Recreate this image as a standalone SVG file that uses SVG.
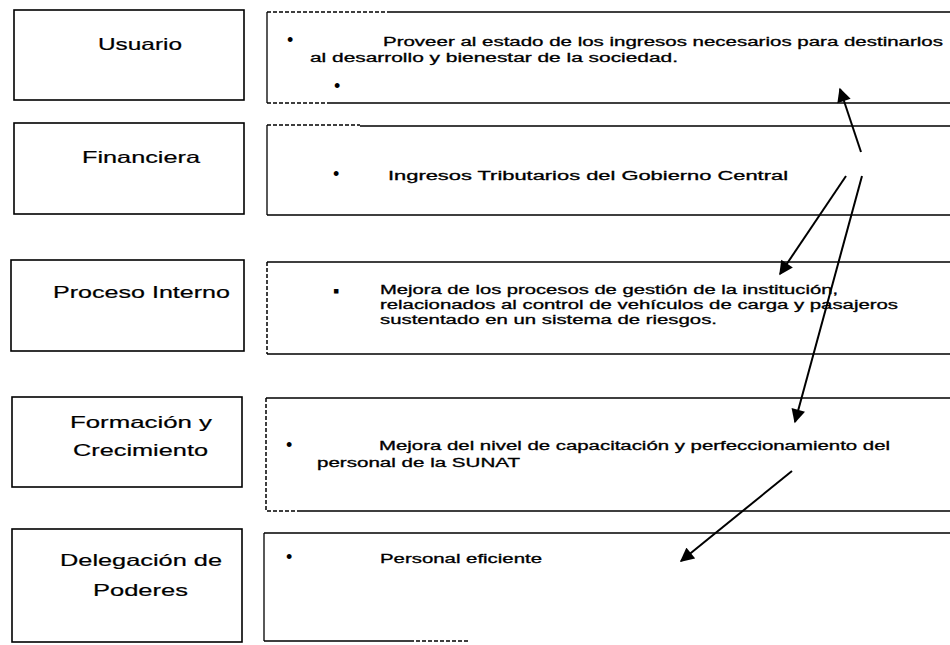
<svg xmlns="http://www.w3.org/2000/svg" width="950" height="645" viewBox="0 0 950 645">
<defs>
<style>
.lb{fill:#fff;stroke:#000;stroke-width:1.6}
.rb{fill:none;stroke:#000;stroke-width:1.3}
.dash{fill:none;stroke:#000;stroke-width:1.5;stroke-dasharray:4 2}
.lt{font-family:"Liberation Sans",Arial,sans-serif;font-size:16.5px;fill:#000;stroke:#000;stroke-width:0.2}
.rt{font-family:"Liberation Sans",Arial,sans-serif;font-size:12.5px;fill:#000;stroke:#000;stroke-width:0.3}
.bu{font-family:"Liberation Sans",Arial,sans-serif;font-size:18px;fill:#000}
.con{fill:none;stroke:#000;stroke-width:2}
</style>
<marker id="ah" viewBox="0 0 10 10" refX="9" refY="5" markerWidth="7.5" markerHeight="7" orient="auto" markerUnits="strokeWidth">
<path d="M0,0 L10,5 L0,10 z" fill="#000"/>
</marker>
</defs>
<rect width="950" height="645" fill="#fff"/>

<g id="usuario">
<rect class="lb" x="14" y="10" width="230" height="90"/>
<text class="lt" x="98" y="50" textLength="84" lengthAdjust="spacingAndGlyphs">Usuario</text>
</g>
<g id="usuario-obj">
<path class="rb" d="M267,12 V103 M390,12 H950 M330,103 H950"/>
<path class="dash" d="M267,12 H390 M267,103 H330"/>
<text class="bu" x="287" y="46">•</text>
<text class="rt" x="383" y="46" textLength="560" lengthAdjust="spacingAndGlyphs">Proveer al estado de los ingresos necesarios para destinarlos</text>
<text class="rt" x="310" y="62" textLength="368" lengthAdjust="spacingAndGlyphs">al desarrollo y bienestar de la sociedad.</text>
<text class="bu" x="334" y="92" font-size="14">•</text>
</g>

<g id="financiera">
<rect class="lb" x="14" y="123" width="230" height="91"/>
<text class="lt" x="82" y="163" textLength="118" lengthAdjust="spacingAndGlyphs">Financiera</text>
</g>
<g id="financiera-obj">
<path class="rb" d="M267,125 V215 M360,126 H950 M267,215 H950"/>
<path class="dash" d="M267,125 H360"/>
<text class="bu" x="333" y="180">•</text>
<text class="rt" x="388" y="180" textLength="400" lengthAdjust="spacingAndGlyphs">Ingresos Tributarios del Gobierno Central</text>
</g>

<g id="proceso">
<rect class="lb" x="11" y="260" width="233" height="91"/>
<text class="lt" x="53" y="298" textLength="177" lengthAdjust="spacingAndGlyphs">Proceso Interno</text>
</g>
<g id="proceso-obj">
<path class="rb" d="M267,262 H950 M267,354 H950"/>
<path class="dash" d="M267,262 V354"/>
<text class="bu" x="333" y="297" font-size="16">▪</text>
<text class="rt" x="380" y="294" textLength="458" lengthAdjust="spacingAndGlyphs">Mejora de los procesos de gestión de la institución,</text>
<text class="rt" x="380" y="309" textLength="518" lengthAdjust="spacingAndGlyphs">relacionados al control de vehículos de carga y pasajeros</text>
<text class="rt" x="380" y="324" textLength="337" lengthAdjust="spacingAndGlyphs">sustentado en un sistema de riesgos.</text>
</g>

<g id="formacion">
<rect class="lb" x="12" y="397" width="230" height="90"/>
<text class="lt" x="70" y="428" textLength="142" lengthAdjust="spacingAndGlyphs">Formación y</text>
<text class="lt" x="73" y="456" textLength="135" lengthAdjust="spacingAndGlyphs">Crecimiento</text>
</g>
<g id="formacion-obj">
<path class="rb" d="M266,398 H950 M300,511 H950"/>
<path class="dash" d="M266,398 V511 H300"/>
<text class="bu" x="286" y="451">•</text>
<text class="rt" x="379" y="450" textLength="511" lengthAdjust="spacingAndGlyphs">Mejora del nivel de capacitación y perfeccionamiento del</text>
<text class="rt" x="317" y="467" textLength="203" lengthAdjust="spacingAndGlyphs">personal de la SUNAT</text>
</g>

<g id="delegacion">
<rect class="lb" x="12" y="529" width="230" height="113"/>
<text class="lt" x="60" y="566" textLength="162" lengthAdjust="spacingAndGlyphs">Delegación de</text>
<text class="lt" x="93" y="596" textLength="95" lengthAdjust="spacingAndGlyphs">Poderes</text>
</g>
<g id="delegacion-obj">
<path class="rb" d="M264,533 V641 M264,533 H950 M264,641 H410"/>
<path class="dash" d="M410,641 H470"/>
<text class="bu" x="286" y="563">•</text>
<text class="rt" x="380" y="563" textLength="162" lengthAdjust="spacingAndGlyphs">Personal eficiente</text>
</g>

<g id="connectors">
<line class="con" x1="861" y1="152" x2="840" y2="89" marker-end="url(#ah)"/>
<line class="con" x1="846" y1="176" x2="780" y2="274" marker-end="url(#ah)"/>
<line class="con" x1="862" y1="176" x2="795" y2="422" marker-end="url(#ah)"/>
<line class="con" x1="792" y1="471" x2="681" y2="561" marker-end="url(#ah)"/>
</g>
</svg>
